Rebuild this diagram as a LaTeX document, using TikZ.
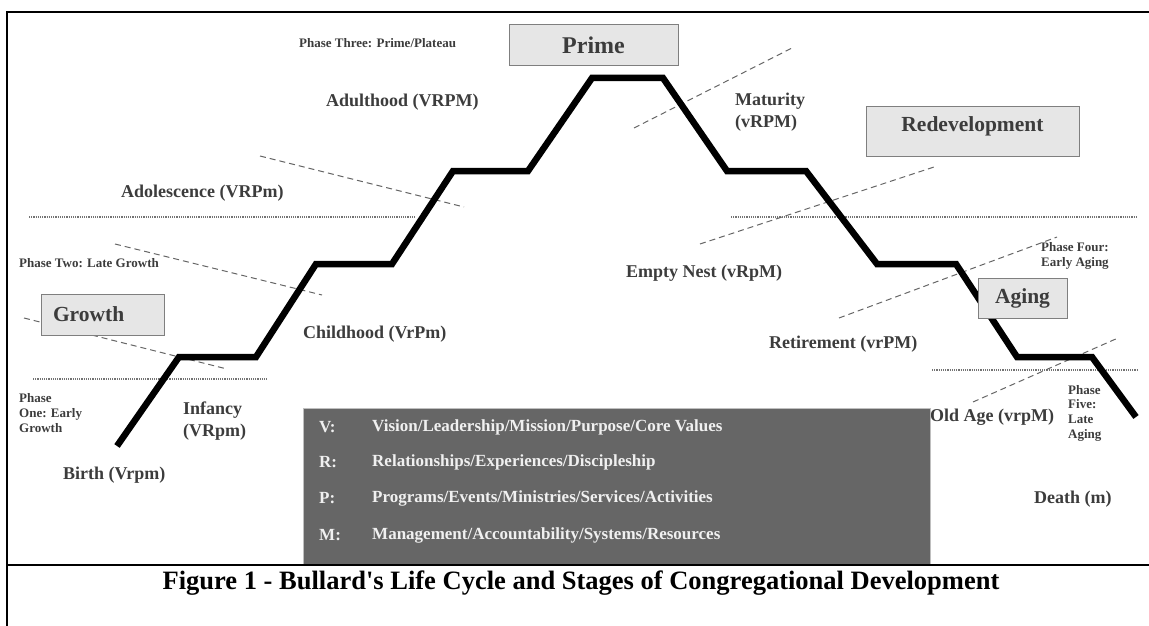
\documentclass[tikz,border=0pt]{standalone}
\usepackage{fontspec}
\setmainfont{Liberation Serif}
\usepackage{tikz}

\definecolor{labelgray}{HTML}{3C3C3C}
\definecolor{boxfill}{HTML}{E6E6E6}
\definecolor{boxline}{HTML}{7F7F7F}
\definecolor{keyfill}{HTML}{666666}
\definecolor{keytext}{HTML}{F0F0F0}

\tikzset{
  stage/.style={draw=boxline, fill=boxfill, line width=1pt, text=labelgray,
    font=\fontsize{21.5}{24}\selectfont\bfseries},
  lbl/.style={anchor=west, inner sep=0pt, align=left, text=labelgray,
    font=\fontsize{18}{22.5}\selectfont\bfseries},
  phasetxt/.style={anchor=west, inner sep=0pt, align=left, text=labelgray,
    font=\fontsize{13}{14.7}\selectfont\bfseries},
  keytxt/.style={anchor=west, inner sep=0pt, text=keytext,
    font=\fontsize{17}{20}\selectfont\bfseries},
  stair/.style={line width=6.5pt, black},
  phaseline/.style={dash pattern=on 6pt off 4pt, line width=1pt, black!60},
  divider/.style={densely dotted, line width=1.2pt, black!55},
  border/.style={line width=2.5pt, black}
}

\begin{document}
\begin{tikzpicture}[x=1pt,y=-1pt]
\useasboundingbox (0,0) rectangle (1149,626);

\begin{scope}
    % life cycle
    \coordinate (a) at (117,446);
    \coordinate (b) at (179,357);
    \coordinate (c) at (256,357);
    \coordinate (d) at (316,264);
    \coordinate (e) at (392,264);
    \coordinate (f) at (453,171);
    \coordinate (g) at (528,171);
    \coordinate (h) at (592,78);
    \coordinate (i) at (663,78);
    \coordinate (j) at (727,171);
    \coordinate (k) at (806,171);
    \coordinate (l) at (877,264);
    \coordinate (m) at (956,264);
    \coordinate (n) at (1017,357);
    \coordinate (o) at (1092,357);
    \coordinate (p) at (1136,417);
    % phase lines
    \coordinate (ua) at (260,156);
    \coordinate (ub) at (464,207);
    \coordinate (va) at (115,244);
    \coordinate (vb) at (322,295);
    \coordinate (wa) at (24,318);
    \coordinate (wb) at (227,369);
    \coordinate (xa) at (634,128);
    \coordinate (xb) at (794,47);
    \coordinate (ya) at (700,244);
    \coordinate (yb) at (934,167);
    \coordinate (za) at (839,318);
    \coordinate (zb) at (1057,237);
    \coordinate (qa) at (973,402);
    \coordinate (qb) at (1118,338);
    % dotted levels
    \coordinate (la) at (29,217);
    \coordinate (lb) at (415,217);
    \coordinate (ma) at (33,379);
    \coordinate (mb) at (268,379);
    \coordinate (na) at (731,217);
    \coordinate (nb) at (1136,217);
    \coordinate (oa) at (932,370);
    \coordinate (ob) at (1138,370);
    % frame
    \coordinate (fa) at (7,12);
    \coordinate (fb) at (1149,12);
    \coordinate (fc) at (7,626);
    \coordinate (fd) at (7,565);
    \coordinate (fe) at (1149,565);
\end{scope}

\draw [divider] (la) -- (lb);
\draw [divider] (ma) -- (mb);
\draw [divider] (na) -- (nb);
\draw [divider] (oa) -- (ob);

\draw [phaseline] (ua) -- (ub);
\draw [phaseline] (va) -- (vb);
\draw [phaseline] (wa) -- (wb);
\draw [phaseline] (xa) -- (xb);
\draw [phaseline] (ya) -- (yb);
\draw [phaseline] (za) -- (zb);
\draw [phaseline] (qa) -- (qb);

\draw [stair] (a) -- (b) -- (c) -- (d) -- (e) -- (f) -- (g) -- (h) -- (i)
    -- (j) -- (k) -- (l) -- (m) -- (n) -- (o) -- (p);

\node[stage, minimum width=169pt, minimum height=41pt,
    font=\fontsize{24}{26}\selectfont\bfseries] (prime) at (593.5,45.5) {Prime};
\node[stage, minimum width=213pt, minimum height=50pt, text depth=14pt] (redev) at (972.5,131) {Redevelopment};
\node[stage, minimum width=123pt, minimum height=41pt, text width=99pt,
    inner xsep=12pt, align=left] (growth) at (102.5,314.5) {Growth};
\node[stage, minimum width=89pt, minimum height=40pt] (aging) at (1022.5,298) {Aging};

\node[phasetxt] (ph3) at (299,43) {Phase Three: Prime/Plateau};
\node[phasetxt] (ph2) at (19,263) {Phase Two: Late Growth};
\node[phasetxt] (ph1) at (19,413) {Phase\\One: Early\\Growth};
\node[phasetxt] (ph4) at (1041,256) {Phase Four:\\Early Aging};
\node[phasetxt] (ph5) at (1068,413) {Phase\\Five:\\Late\\Aging};

\node[lbl] (adult) at (326,102) {Adulthood (VRPM)};
\node[lbl] (adol) at (121,193) {Adolescence (VRPm)};
\node[lbl] (child) at (303,334) {Childhood (VrPm)};
\node[lbl] (inf) at (183,421) {Infancy\\(VRpm)};
\node[lbl] (birth) at (63,475) {Birth (Vrpm)};
\node[lbl] (mat) at (735,112) {Maturity\\(vRPM)};
\node[lbl] (empty) at (626,273) {Empty Nest (vRpM)};
\node[lbl] (ret) at (769,344) {Retirement (vrPM)};
\node[lbl] (old) at (930,417) {Old Age (vrpM)};
\node[lbl] (death) at (1034,499) {Death (m)};

% key
\node[fill=keyfill, draw=black!25, line width=1pt, inner sep=0pt, anchor=north west,
    minimum width=627pt, minimum height=157pt] (key) at (303,408) {};
\node[keytxt] (kv) at (319,427) {V:};
\node[keytxt] (kr) at (319,462) {R:};
\node[keytxt] (kp) at (319,498) {P:};
\node[keytxt] (km) at (319,535) {M:};
\node[keytxt] (tv) at (372,427) {Vision/Leadership/Mission/Purpose/Core Values};
\node[keytxt] (tr) at (372,462) {Relationships/Experiences/Discipleship};
\node[keytxt] (tp) at (372,498) {Programs/Events/Ministries/Services/Activities};
\node[keytxt] (tm) at (372,535) {Management/Accountability/Systems/Resources};

\draw [border] (fb) -- (fa) -- (fc);
\draw [border] (fd) -- (fe);

\node[font=\fontsize{26.5}{30}\selectfont\bfseries] (cap) at (581,583)
    {Figure 1 - Bullard\textquotesingle s Life Cycle and Stages of Congregational Development};
\end{tikzpicture}
\end{document}
